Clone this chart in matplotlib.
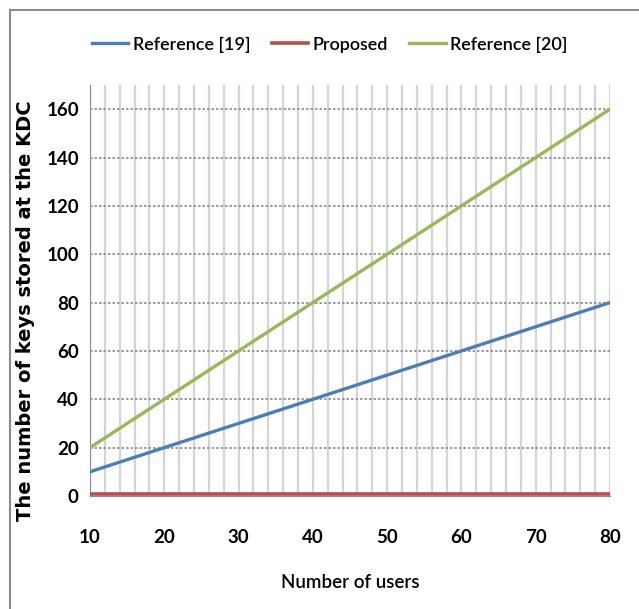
import matplotlib
matplotlib.use('Agg')
import matplotlib.pyplot as plt
from matplotlib.lines import Line2D
import numpy as np

users = [10, 20, 30, 40, 50, 60, 70, 80]
ref19 = [10, 20, 30, 40, 50, 60, 70, 80]
proposed = [1, 1, 1, 1, 1, 1, 1, 1]
ref20 = [20, 40, 60, 80, 100, 120, 140, 160]
yticks = [0, 20, 40, 60, 80, 100, 120, 140, 160]
xticks = [10, 20, 30, 40, 50, 60, 70, 80]

narrow = ['Lato', 'DejaVu Sans']

fig = plt.figure(figsize=(6.39, 6.09), dpi=100)
ax = fig.add_axes([0.1408, 0.1856, 0.8138, 0.6748])

# vertical minor grid every 2 users, dashed horizontal grid every 20
for xv in np.arange(10, 81, 2):
    ax.axvline(xv, color='#d4d4d4', lw=1.6, zorder=1)
for yv in yticks[1:]:
    ax.axhline(yv, color='#8c8c8c', lw=1.2, ls=(0, (1.5, 1.2)), zorder=1)

ax.plot(users, ref19, color='#4a7ebb', lw=2.4, label='Reference [19]', zorder=3)
ax.plot(users, proposed, color='#be4b48', lw=2.6, label='Proposed', zorder=3)
ax.plot(users, ref20, color='#98b954', lw=2.4, label='Reference [20]', zorder=3)

ax.set_xlim(10, 80)
ax.set_ylim(0, 170)
ax.set_xticks(xticks)
ax.set_yticks(yticks)
ax.tick_params(length=0)
ax.tick_params(axis='x', pad=24)
ax.tick_params(axis='y', pad=8)
for lab in ax.get_xticklabels() + ax.get_yticklabels():
    lab.set_fontfamily(narrow)
    lab.set_fontweight('bold')
    lab.set_fontsize(13.5)

for s in ['top', 'right']:
    ax.spines[s].set_visible(False)
ax.spines['left'].set_color('#8c8c8c')
ax.spines['bottom'].set_color('#8c8c8c')

ax.set_xlabel('Number of users', family=narrow, fontsize=13.5, fontweight='semibold')
ax.xaxis.set_label_coords(0.5, -0.19)
ax.set_ylabel('The number of keys stored at the KDC', family='DejaVu Sans',
              fontweight='bold', fontsize=14)
ax.yaxis.set_label_coords(-0.106, 0.45)

leg = fig.legend(loc='center', bbox_to_anchor=(0.516, 0.927), ncol=3,
                 frameon=False,
                 prop={'family': narrow, 'size': 13, 'weight': 'semibold'},
                 handlelength=2.0, handletextpad=0.25, columnspacing=1.2)

# outer chart border (left and top)
fig.add_artist(Line2D([0.016, 0.016], [0, 0.984], color='#8c8c8c', lw=1.5))
fig.add_artist(Line2D([0.016, 1.0], [0.984, 0.984], color='#8c8c8c', lw=1.5))

fig.savefig('out.png', dpi=100)
